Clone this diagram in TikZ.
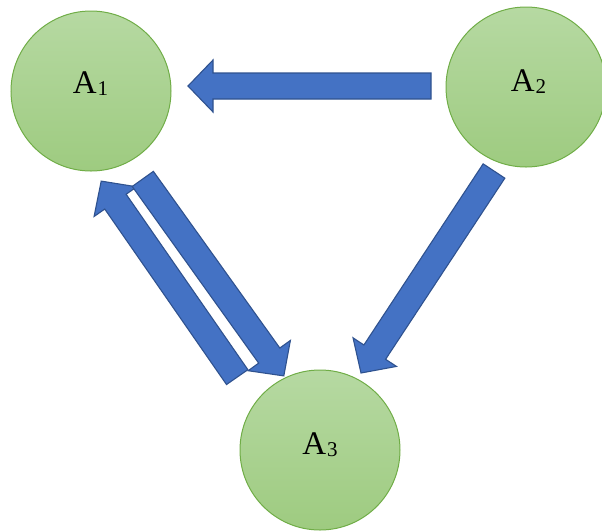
\documentclass[tikz,border=0pt]{standalone}
\usepackage{fontspec}
\setmainfont{Liberation Serif}
\usetikzlibrary{calc}
\definecolor{cfillT}{HTML}{B6D9A2}
\definecolor{cfillB}{HTML}{9ECB80}
\definecolor{cline}{HTML}{70AD47}
\definecolor{afill}{HTML}{4472C4}
\definecolor{aline}{HTML}{2F528F}
\tikzset{
  ball/.style={circle, minimum size=160pt, inner sep=0pt, draw=cline, line width=1pt,
    top color=cfillT, bottom color=cfillB},
  lbl/.style={anchor=base, inner sep=0pt, font=\fontsize{33}{40}\selectfont},
  barrow/.style={fill=afill, draw=aline, line width=1.1pt, line join=miter},
}
\newcommand{\sbs}[1]{\kern1pt\raisebox{-2pt}{\fontsize{21}{25}\selectfont #1}}
% block arrow from named coordinate #1 (tail) to #2 (tip)
\newcommand{\blockarrow}[2]{%
  \coordinate (#1hb) at ($(#2)!25pt!(#1)$);
  \draw[barrow] ($(#1)!13pt!90:(#2)$) -- ($(#1hb)!13pt!90:(#2)$) -- ($(#1hb)!26pt!90:(#2)$)
    -- (#2) -- ($(#1hb)!26pt!-90:(#2)$) -- ($(#1hb)!13pt!-90:(#2)$) -- ($(#1)!13pt!-90:(#2)$) -- cycle;
}
\begin{document}
\begin{tikzpicture}[x=1pt,y=-1pt]
\useasboundingbox (0,0) rectangle (602,531);
\node[ball] (A1) at (91,91) {};
\node[ball] (A2) at (526,87) {};
\node[ball] (A3) at (320,450) {};
\node[lbl] (t1) at (90.5,93.5) {A\sbs{1}};
\node[lbl] (t2) at (528.5,91) {A\sbs{2}};
\node[lbl] (t3) at (320,454) {A\sbs{3}};
% arrow end points
\coordinate (h21) at (431,86);
\coordinate (h21e) at (188,86);
\coordinate (d23) at (494,171);
\coordinate (d23e) at (361,373);
\coordinate (d13) at (142.8,178.9);
\coordinate (d13e) at (283.8,375.9);
\coordinate (u31) at (237.2,377.1);
\coordinate (u31e) at (101.2,181.1);
\blockarrow{h21}{h21e}
\blockarrow{d23}{d23e}
\blockarrow{u31}{u31e}
\blockarrow{d13}{d13e}
\end{tikzpicture}
\end{document}
